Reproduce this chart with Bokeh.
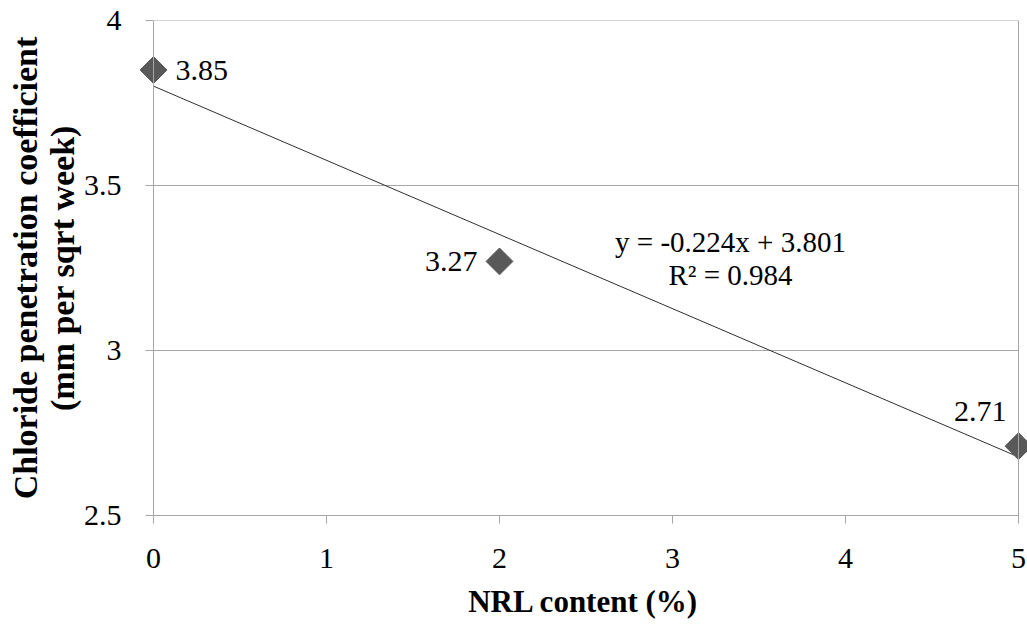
import numpy as np
from bokeh.plotting import figure
from bokeh.models import Range1d, FixedTicker, CustomJSTickFormatter, ColumnDataSource, Label, Span
from bokeh.core.properties import value
from bokeh.embed import file_html
from bokeh.resources import INLINE

# data
nrl_content = [0, 2, 5]
chloride_coeff = [3.85, 3.27, 2.71]
point_labels = ["3.85", "3.27", "2.71"]
x_ticks = [0, 1, 2, 3, 4, 5]
y_ticks = [2.5, 3, 3.5, 4]
equation_text = "y = -0.224x + 3.801"
r2_text = "R² = 0.984"
x_title = "NRL content (%)"
y_title = "Chloride penetration coefficient\n(mm per sqrt week)"

FONT = "Liberation Serif, Times New Roman, DejaVu Serif, serif"
GRAY = "#a6a6a6"
MARK = "#595959"

W, H = 1027, 625
X0, X1, Y0, Y1 = 0, 5, 2.5, 4
AX_LEFT = 153      # pixel of x = 0
AX_RIGHT = 1018    # pixel of x = 5
FRAME_LEFT = 139   # frame starts a bit left of the axis so markers are not clipped
SHIFT = AX_LEFT - FRAME_LEFT
BT, BB = 20, 110

ppx = (AX_RIGHT - AX_LEFT) / (X1 - X0)
xr = Range1d(X0 - SHIFT / ppx, X1 + (W - AX_RIGHT) / ppx)

p = figure(width=W, height=H, output_backend="svg", toolbar_location=None,
           x_range=xr, y_range=Range1d(Y0, Y1),
           min_border_left=FRAME_LEFT, min_border_right=0, min_border_top=BT, min_border_bottom=BB)
p.background_fill_color = "white"
p.border_fill_color = "white"
p.outline_line_color = None

# gridlines (limited to the 0..5 data span)
p.xgrid.visible = False
p.ygrid.visible = False
p.segment(x0=[X0] * len(y_ticks), x1=[X1] * len(y_ticks), y0=y_ticks, y1=y_ticks,
          line_color=GRAY, line_width=1)
# y axis line at x = 0 and right border of the plot area at x = 5
p.add_layout(Span(location=X0, dimension="height", line_color=GRAY, line_width=1))
p.add_layout(Span(location=X1, dimension="height", line_color=GRAY, line_width=1))

# trendline (least squares)
slope, intercept = np.polyfit(nrl_content, chloride_coeff, 1)
tx = [min(nrl_content), max(nrl_content)]
ty = [slope * v + intercept for v in tx]
p.line(tx, ty, line_color="#303030", line_width=1)

src = ColumnDataSource(dict(x=nrl_content, y=chloride_coeff, lab=point_labels,
                            xo=[22, -22, -12], yo=[0, 0, -35], al=["left", "right", "right"]))
p.scatter("x", "y", source=src, marker="square", size=19, angle=np.pi / 4,
          fill_color=MARK, line_color=MARK)
p.text("x", "y", text="lab", source=src, x_offset="xo", y_offset="yo", text_align="al",
       text_baseline="middle", text_font=value(FONT), text_font_size="30px", text_color="black")

p.add_layout(Label(x=3.335, y=3.328, text=equation_text, text_align="center", text_baseline="middle",
                   text_font=FONT, text_font_size="29px", text_color="black"))
p.add_layout(Label(x=3.335, y=3.23, text=r2_text, text_align="center", text_baseline="middle",
                   text_font=FONT, text_font_size="29px", text_color="black"))

fmt = CustomJSTickFormatter(code="return tick.toString();")

for ax, ticks in ((p.xaxis[0], x_ticks), (p.yaxis[0], y_ticks)):
    ax.ticker = FixedTicker(ticks=ticks)
    ax.formatter = fmt
    ax.axis_line_color = GRAY
    ax.major_tick_line_color = GRAY
    ax.minor_tick_line_color = None
    ax.major_label_text_font = FONT
    ax.major_label_text_font_size = "30px"
    ax.major_label_text_color = "black"
    ax.axis_label_text_font = FONT
    ax.axis_label_text_font_style = "bold"
    ax.axis_label_text_color = "black"

p.xaxis.bounds = (X0, X1)
p.xaxis.major_tick_in = 0
p.xaxis.major_tick_out = 8
p.xaxis.axis_label = x_title
p.xaxis.axis_label_text_font_size = "31px"
p.xaxis.major_label_standoff = 25
p.xaxis.axis_label_standoff = 13

# y axis sits on the frame edge; its ticks are drawn shifted in to x = 0
p.yaxis.axis_line_color = None
p.yaxis.major_tick_in = SHIFT
p.yaxis.major_tick_out = -(SHIFT - 8)
p.yaxis.axis_label = y_title
p.yaxis.axis_label_text_font_size = "34px"
p.yaxis.axis_label_text_line_height = 1.0
p.yaxis.major_label_standoff = 18
p.yaxis.axis_label_standoff = 0

open("out.html", "w").write(file_html(p, INLINE))
